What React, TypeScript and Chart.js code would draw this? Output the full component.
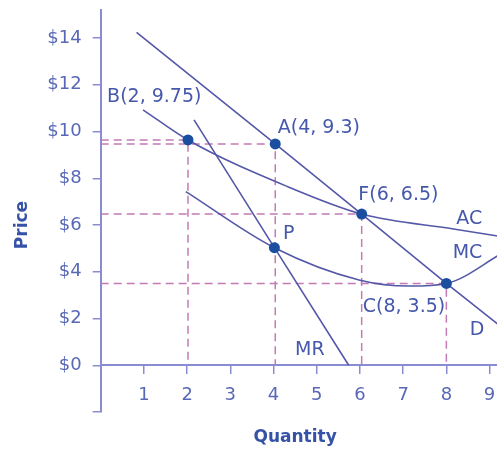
import React, { useEffect, useRef } from 'react';
import { Chart, registerables } from 'chart.js';

Chart.register(...registerables);

// Axis ticks
const xTicks = [1, 2, 3, 4, 5, 6, 7, 8, 9];
const yTicks = [-2, 0, 2, 4, 6, 8, 10, 12, 14];

// Demand curve D
const demandQ = [0.83, 4.04, 6.04, 8.0, 9.3];
const demandP = [14.24, 9.47, 6.47, 3.5, 1.6];

// Marginal revenue MR
const mrQ = [2.16, 4.02, 5.74];
const mrP = [10.5, 5.03, 0];

// Average cost AC
const acQ = [0.98, 2.02, 4.33, 6.04, 8.2, 9.3];
const acP = [10.93, 9.64, 7.64, 6.47, 5.82, 5.5];

// Marginal cost MC
const mcQ = [1.97, 4.02, 6.0, 7.14, 8.0, 9.3];
const mcP = [7.43, 5.03, 3.64, 3.39, 3.5, 4.8];

// Marked points: B, A, F, P, C
const pointQ = [2.02, 4.04, 6.04, 4.02, 8.0];
const pointP = [9.64, 9.47, 6.47, 5.03, 3.5];

// Dashed guide lines (to both axes): B, A, F, C
const guideQ = [2.02, 4.04, 6.04, 8.0];
const guideP = [9.64, 9.47, 6.47, 3.5];

// Annotation labels
const labelText = ['B(2, 9.75)', 'A(4, 9.3)', 'F(6, 6.5)', 'AC', 'P', 'MC', 'C(8, 3.5)', 'D', 'MR'];
const labelQ = [1.24, 5.05, 6.89, 8.53, 4.35, 8.49, 7.02, 8.71, 4.84];
const labelP = [11.49, 10.14, 7.29, 6.26, 5.61, 4.82, 2.49, 1.5, 0.64];

const xTitle = 'Quantity';
const yTitle = 'Price';

const curveColor = '#5558a8';
const dotColor = '#1c4ea0';
const dashColor = '#c47ab4';
const axisColor = '#8a8cd2';
const tickTextColor = '#5868b6';
const labelColor = '#4558ab';
const titleColor = '#3552a6';

const toXY = (q: number[], p: number[]) => q.map((v, i) => ({ x: v, y: p[i] }));

export default function App() {
  const canvasRef = useRef<HTMLCanvasElement | null>(null);

  useEffect(() => {
    const canvas = canvasRef.current;
    if (!canvas) return;

    const curve = (label: string, q: number[], p: number[], smooth: boolean) => ({
      label,
      data: toXY(q, p),
      showLine: true,
      borderColor: curveColor,
      borderWidth: 1.6,
      pointRadius: 0,
      fill: false,
      tension: 0,
      cubicInterpolationMode: smooth ? 'monotone' : 'default',
      order: 1,
    });

    const guides = guideQ.map((q, i) => ({
      label: 'guide' + i,
      data: [
        { x: 0, y: guideP[i] },
        { x: q, y: guideP[i] },
        { x: q, y: 0 },
      ],
      showLine: true,
      borderColor: dashColor,
      borderWidth: 1.5,
      borderDash: [8, 5],
      pointRadius: 0,
      fill: false,
      order: 2,
    }));

    const annotations = {
      id: 'annotations',
      afterDatasetsDraw(chart: any) {
        const { ctx, scales, chartArea } = chart;
        const xs = scales.x;
        const ys = scales.y;
        ctx.save();
        ctx.fillStyle = labelColor;
        ctx.font = '19px "DejaVu Sans"';
        ctx.textAlign = 'center';
        ctx.textBaseline = 'middle';
        labelText.forEach((t, i) => {
          ctx.fillText(t, xs.getPixelForValue(labelQ[i]), ys.getPixelForValue(labelP[i]));
        });
        ctx.fillStyle = titleColor;
        ctx.font = 'bold 17px "DejaVu Sans"';
        ctx.fillText(xTitle, xs.getPixelForValue(4.5), ys.getPixelForValue(0) + 72);
        ctx.translate(chartArea.left - 78, ys.getPixelForValue(6));
        ctx.rotate(-Math.PI / 2);
        ctx.fillText(yTitle, 0, 0);
        ctx.restore();
      },
    };

    const chart = new Chart(canvas, {
      type: 'scatter',
      data: {
        datasets: [
          {
            label: 'points',
            data: toXY(pointQ, pointP),
            pointRadius: 5.5,
            pointBackgroundColor: dotColor,
            pointBorderWidth: 0,
            showLine: false,
            order: 0,
          },
          curve('D', demandQ, demandP, false),
          curve('MR', mrQ, mrP, false),
          curve('AC', acQ, acP, true),
          curve('MC', mcQ, mcP, true),
          ...guides,
        ] as any,
      },
      options: {
        responsive: false,
        animation: false,
        layout: { padding: { top: 10, bottom: 39, left: 0, right: 0 } },
        plugins: {
          legend: { display: false },
          tooltip: { enabled: false },
        },
        scales: {
          x: {
            type: 'linear',
            position: { y: 0 } as any,
            min: 0,
            max: 10.04,
            afterBuildTicks: (s: any) => {
              s.ticks = xTicks.map((v) => ({ value: v }));
            },
            afterFit: (s: any) => {
              s.paddingLeft = 0;
              s.paddingRight = 0;
            },
            grid: { drawOnChartArea: false, drawTicks: true, tickLength: 8, color: axisColor, lineWidth: 1.5 },
            border: { display: true, color: axisColor, width: 2 },
            ticks: {
              color: tickTextColor,
              font: { family: 'DejaVu Sans', size: 18 },
              padding: 11,
              autoSkip: false,
              maxRotation: 0,
            },
          },
          y: {
            type: 'linear',
            position: 'left',
            min: -2,
            max: 15.2,
            afterBuildTicks: (s: any) => {
              s.ticks = yTicks.map((v) => ({ value: v }));
            },
            afterFit: (s: any) => {
              s.width = 100.7;
              s.paddingTop = 0;
              s.paddingBottom = 0;
            },
            grid: { drawOnChartArea: false, drawTicks: true, tickLength: 8, color: axisColor, lineWidth: 1.5 },
            border: { display: true, color: axisColor, width: 2 },
            ticks: {
              color: tickTextColor,
              font: { family: 'DejaVu Sans', size: 18 },
              padding: 11,
              autoSkip: false,
              callback: (v: any) => (Number(v) >= 0 ? '$' + v : ''),
            },
          },
        },
      } as any,
      plugins: [annotations],
    });

    return () => chart.destroy();
  }, []);

  return (
    <div
      style={{
        position: 'fixed',
        left: 0,
        top: 0,
        width: 497,
        height: 451,
        overflow: 'hidden',
        background: '#ffffff',
      }}
    >
      <canvas ref={canvasRef} width={540} height={451} style={{ width: 540, height: 451, display: 'block' }} />
    </div>
  );
}
